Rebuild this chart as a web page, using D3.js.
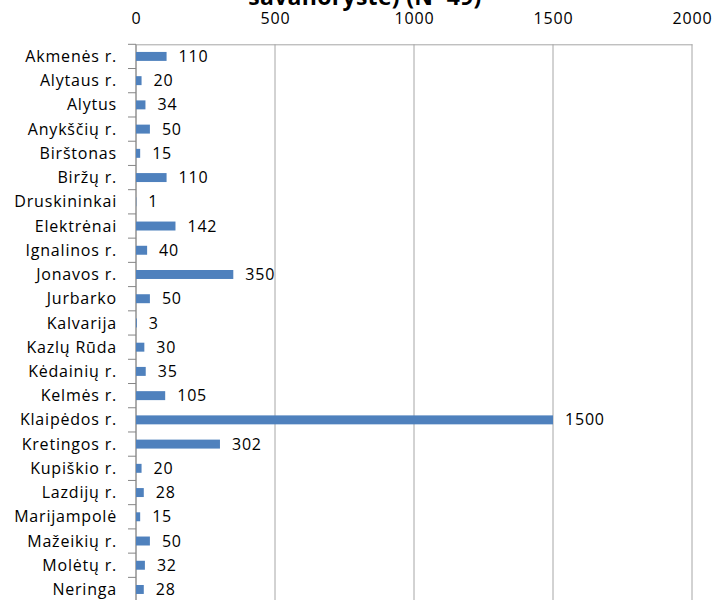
<!DOCTYPE html>
<html>
<head>
<meta charset="utf-8">
<script src="https://cdnjs.cloudflare.com/ajax/libs/d3/7.8.5/d3.min.js"></script>
<style>
  body { margin: 0; background: #fff; }
  svg text { font-family: "Open Sans", "Liberation Sans", sans-serif; }
</style>
</head>
<body>
<div id="chart"></div>
<script>
// data
var categories = ["Akmenės r.", "Alytaus r.", "Alytus", "Anykščių r.", "Birštonas", "Biržų r.",
  "Druskininkai", "Elektrėnai", "Ignalinos r.", "Jonavos r.", "Jurbarko", "Kalvarija",
  "Kazlų Rūda", "Kėdainių r.", "Kelmės r.", "Klaipėdos r.", "Kretingos r.", "Kupiškio r.",
  "Lazdijų r.", "Marijampolė", "Mažeikių r.", "Molėtų r.", "Neringa"];
var values = [110, 20, 34, 50, 15, 110, 1, 142, 40, 350, 50, 3, 30, 35, 105, 1500, 302, 20, 28, 15, 50, 32, 28];
var tickValues = [0, 500, 1000, 1500, 2000];
var titleText = "savanorystė) (N=49)";

var width = 714;
var height = 600;
var plotLeft = 136, plotRight = 692, plotTop = 44.3;
var band = 24.23;
var fontSize = "16px", spacing = "0.8px";

var svg = d3.select("#chart").append("svg")
    .attr("width", width)
    .attr("height", height);

var x = d3.scaleLinear().domain([0, 2000]).range([plotLeft, plotRight]);
var y = d3.scaleBand().domain(categories)
    .range([plotTop, plotTop + band * categories.length])
    .paddingInner(0.63).paddingOuter(0.315);

// title (cut off at top like the original)
svg.append("text")
    .attr("x", 365)
    .attr("y", 5)
    .attr("text-anchor", "middle")
    .style("font-size", "23px")
    .style("font-weight", "bold")
    .style("letter-spacing", "0.3px")
    .text(titleText);

// vertical gridlines
svg.selectAll(".grid")
    .data(tickValues)
    .enter()
    .append("line")
    .attr("class", "grid")
    .attr("x1", function (d) { return x(d); })
    .attr("x2", function (d) { return x(d); })
    .attr("y1", plotTop)
    .attr("y2", height)
    .attr("stroke", "#a6a6a6")
    .attr("stroke-width", 1);

// top axis
var xAxis = d3.axisTop(x).tickValues(tickValues).tickFormat(d3.format("d"))
    .tickSize(0).tickPadding(0);
var gx = svg.append("g")
    .attr("transform", "translate(0," + plotTop + ")")
    .call(xAxis);
gx.select(".domain").attr("stroke", "#a6a6a6");
gx.selectAll("text")
    .attr("y", -20)
    .style("font-size", fontSize)
    .style("letter-spacing", spacing)
    .style("fill", "#000");

// left axis line and category ticks between bands
svg.append("line")
    .attr("x1", plotLeft).attr("x2", plotLeft)
    .attr("y1", plotTop).attr("y2", height)
    .attr("stroke", "#868686");

var bounds = d3.range(categories.length + 1);
svg.selectAll(".ytick")
    .data(bounds)
    .enter()
    .append("line")
    .attr("class", "ytick")
    .attr("x1", plotLeft - 8).attr("x2", plotLeft)
    .attr("y1", function (d) { return plotTop + d * band; })
    .attr("y2", function (d) { return plotTop + d * band; })
    .attr("stroke", "#868686");

// category labels
svg.selectAll(".cat")
    .data(categories)
    .enter()
    .append("text")
    .attr("class", "cat")
    .attr("x", plotLeft - 19)
    .attr("y", function (d) { return y(d) + y.bandwidth() / 2; })
    .attr("dy", "0.35em")
    .attr("text-anchor", "end")
    .style("font-size", fontSize)
    .style("letter-spacing", spacing)
    .style("fill", "#000")
    .text(function (d) { return d; });

// bars
svg.selectAll(".bar")
    .data(values)
    .enter()
    .append("rect")
    .attr("class", "bar")
    .attr("x", x(0))
    .attr("y", function (d, i) { return y(categories[i]); })
    .attr("width", function (d) { return x(d) - x(0); })
    .attr("height", y.bandwidth())
    .attr("fill", "#4f81bd");

// value labels
svg.selectAll(".val")
    .data(values)
    .enter()
    .append("text")
    .attr("class", "val")
    .attr("x", function (d) { return x(d) + 12; })
    .attr("y", function (d, i) { return y(categories[i]) + y.bandwidth() / 2; })
    .attr("dy", "0.35em")
    .style("font-size", fontSize)
    .style("letter-spacing", spacing)
    .style("fill", "#000")
    .text(function (d) { return d; });
</script>
</body>
</html>
